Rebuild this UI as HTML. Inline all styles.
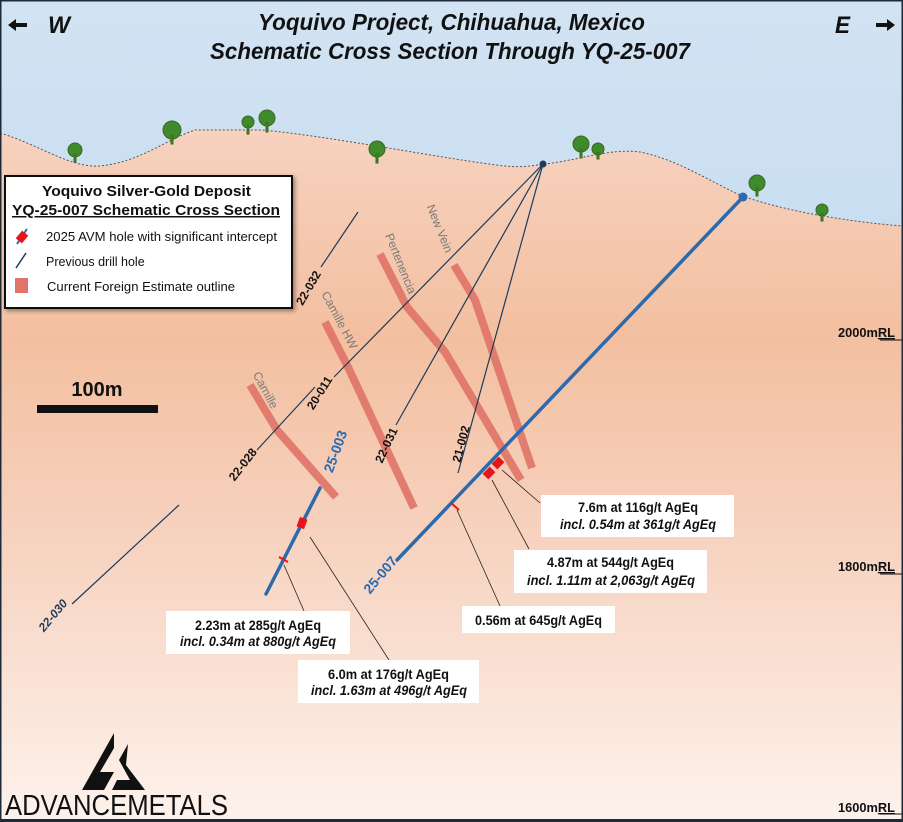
<!DOCTYPE html>
<html><head><meta charset="utf-8"><style>
html,body{margin:0;padding:0;background:#fff}
svg{display:block}
.n{font-family:"Liberation Sans",sans-serif}
.s{font-family:"Liberation Sans",sans-serif}
</style></head><body>
<svg width="903" height="822" viewBox="0 0 903 822" xmlns="http://www.w3.org/2000/svg">
<defs>
<linearGradient id="sky" x1="0" y1="0" x2="0" y2="1"><stop offset="0" stop-color="#d2e3f3"/><stop offset="1" stop-color="#b3d2ec"/></linearGradient>
<linearGradient id="gr" x1="0" y1="0" x2="0" y2="1"><stop offset="0" stop-color="#f7d2bf"/><stop offset="0.3" stop-color="#f3bfa0"/><stop offset="0.6" stop-color="#f7d3c0"/><stop offset="1" stop-color="#fdf2ec"/></linearGradient>
<filter id="sh"><feDropShadow dx="2" dy="2" stdDeviation="2" flood-opacity="0.4"/></filter>
</defs>
<rect width="903" height="822" fill="url(#sky)"/>
<path d="M0,133 C40,145 70,168 100,166 C140,162 165,140 195,130 L262,130 C330,136 450,160 505,166 C525,168 535,165 545,164 C580,160 610,148 640,152 C680,160 715,185 745,197 C790,212 850,222 903,226 L903,822 L0,822 Z" fill="url(#gr)"/>
<path d="M0,133 C40,145 70,168 100,166 C140,162 165,140 195,130 L262,130 C330,136 450,160 505,166 C525,168 535,165 545,164 C580,160 610,148 640,152 C680,160 715,185 745,197 C790,212 850,222 903,226" fill="none" stroke="#555" stroke-width="1" stroke-dasharray="2,2"/>
<g fill="#3f8a2a" stroke="#3a6a20" stroke-width="1">
<g transform="translate(75,150)"><circle r="7"/><rect x="-1" y="4" width="2" height="8"/></g>
<g transform="translate(172,130)"><circle r="9"/><rect x="-1" y="5" width="2" height="9"/></g>
<g transform="translate(248,122)"><circle r="6"/><rect x="-1" y="4" width="2" height="8"/></g>
<g transform="translate(267,118)"><circle r="8"/><rect x="-1" y="5" width="2" height="9"/></g>
<g transform="translate(377,149)"><circle r="8"/><rect x="-1" y="5" width="2" height="9"/></g>
<g transform="translate(581,144)"><circle r="8"/><rect x="-1" y="5" width="2" height="9"/></g>
<g transform="translate(598,149)"><circle r="6"/><rect x="-1" y="4" width="2" height="6"/></g>
<g transform="translate(757,183)"><circle r="8"/><rect x="-1" y="5" width="2" height="8"/></g>
<g transform="translate(822,210)"><circle r="6"/><rect x="-1" y="4" width="2" height="7"/></g>
</g>
<g class="n" font-weight="bold" font-style="italic" fill="#111">
<text x="258" y="30" font-size="23" textLength="387" lengthAdjust="spacingAndGlyphs">Yoquivo Project, Chihuahua, Mexico</text>
<text x="210" y="59" font-size="23" textLength="480" lengthAdjust="spacingAndGlyphs">Schematic Cross Section Through YQ-25-007</text>
<text x="48" y="33" font-size="24" textLength="22" lengthAdjust="spacingAndGlyphs">W</text>
<text x="835" y="33" font-size="24" textLength="15" lengthAdjust="spacingAndGlyphs">E</text>
</g>
<path d="M8,25 L16,19 L16,23 L27,23 L27,27 L16,27 L16,31 Z" fill="#111"/>
<path d="M895,25 L887,19 L887,23 L876,23 L876,27 L887,27 L887,31 Z" fill="#111"/>
<g fill="none" stroke="#e07468" stroke-width="8" stroke-linecap="butt" opacity="0.9">
<polyline points="250,385 277,430 336,497"/>
<polyline points="325,322 348,367 414,508"/>
<polyline points="380,254 407,307 445,352 521,480"/>
<polyline points="454,265 475,300 532,468"/>
</g>
<g class="s" fill="#7a7a7a" font-size="12">
<text transform="translate(262,392) rotate(62)" text-anchor="middle">Camille</text>
<text transform="translate(336,322) rotate(62)" text-anchor="middle">Camille HW</text>
<text transform="translate(397,265) rotate(68)" text-anchor="middle">Pertenencia</text>
<text transform="translate(436,230) rotate(68)" text-anchor="middle">New Vein</text>
</g>
<g stroke="#1d3b5a" stroke-width="1.2" fill="none">
<line x1="543" y1="164" x2="334" y2="377"/>
<line x1="315" y1="387" x2="257" y2="450"/>
<line x1="358" y1="212" x2="321" y2="267"/>
<line x1="543" y1="164" x2="396" y2="425"/>
<line x1="543" y1="164" x2="458" y2="473"/>
<line x1="179" y1="505" x2="72" y2="604"/>
</g>
<circle cx="543" cy="164" r="3.5" fill="#1d3b5a"/>
<g class="s" fill="#111" font-size="12" font-weight="bold" text-anchor="middle">
<text transform="translate(312,290) rotate(-60)">22-032</text>
<text transform="translate(323,395) rotate(-58)">20-011</text>
<text transform="translate(246,467) rotate(-52)">22-028</text>
<text transform="translate(390,447) rotate(-65)">22-031</text>
<text transform="translate(465,445) rotate(-75)">21-002</text>
<text transform="translate(56,618) rotate(-50)" font-style="italic" fill="#1d3b5a">22-030</text>
</g>
<g stroke="#2c6aae" stroke-width="3.5" stroke-linecap="round">
<line x1="743" y1="197" x2="397" y2="560"/>
<line x1="320" y1="488" x2="266" y2="594"/>
</g>
<circle cx="743" cy="197" r="4.5" fill="#2c6aae"/>
<g class="s" fill="#2c6aae" font-size="14" font-weight="bold" text-anchor="middle">
<text transform="translate(340,453) rotate(-70)">25-003</text>
<text transform="translate(384,578) rotate(-50)">25-007</text>
</g>
<g fill="#e8141a">
<rect x="-5" y="-4" width="10" height="8" transform="translate(498,463) rotate(-45)"/>
<rect x="-5" y="-4" width="10" height="8" transform="translate(489,473) rotate(-45)"/>
<rect x="-5" y="-4" width="10" height="8" transform="translate(302,523) rotate(-70)"/>
</g>
<g stroke="#e8141a" stroke-width="2">
<line x1="451" y1="503" x2="459" y2="510"/>
<line x1="279" y1="557" x2="288" y2="562"/>
</g>
<g stroke="#222" stroke-width="0.8">
<line x1="502" y1="470" x2="540" y2="503"/>
<line x1="492" y1="480" x2="529" y2="549"/>
<line x1="457" y1="510" x2="500" y2="606"/>
<line x1="284" y1="565" x2="304" y2="611"/>
<line x1="310" y1="537" x2="389" y2="660"/>
</g>
<g fill="#fff"><rect x="541" y="495" width="193" height="42"/><rect x="514" y="550" width="193" height="43"/><rect x="462" y="606" width="153" height="27"/><rect x="166" y="611" width="184" height="43"/><rect x="298" y="660" width="181" height="43"/></g>
<g class="n" fill="#111" font-size="14" font-weight="bold">
<text x="578" y="512" textLength="120" lengthAdjust="spacingAndGlyphs">7.6m at 116g/t AgEq</text><text x="560" y="529" font-style="italic" textLength="156" lengthAdjust="spacingAndGlyphs">incl. 0.54m at 361g/t AgEq</text>
<text x="547" y="567" textLength="127" lengthAdjust="spacingAndGlyphs">4.87m at 544g/t AgEq</text><text x="527" y="585" font-style="italic" textLength="168" lengthAdjust="spacingAndGlyphs">incl. 1.11m at 2,063g/t AgEq</text>
<text x="475" y="625" textLength="127" lengthAdjust="spacingAndGlyphs">0.56m at 645g/t AgEq</text>
<text x="195" y="630" textLength="126" lengthAdjust="spacingAndGlyphs">2.23m at 285g/t AgEq</text><text x="180" y="646" font-style="italic" textLength="156" lengthAdjust="spacingAndGlyphs">incl. 0.34m at 880g/t AgEq</text>
<text x="328" y="679" textLength="121" lengthAdjust="spacingAndGlyphs">6.0m at 176g/t AgEq</text><text x="311" y="695" font-style="italic" textLength="156" lengthAdjust="spacingAndGlyphs">incl. 1.63m at 496g/t AgEq</text>
</g>
<rect x="5" y="176" width="287" height="132" fill="#fff" stroke="#111" stroke-width="2" filter="url(#sh)"/>
<g class="s" fill="#111">
<text x="42" y="196" font-size="15" font-weight="bold" textLength="209" lengthAdjust="spacingAndGlyphs">Yoquivo Silver-Gold Deposit</text>
<text x="12" y="215" font-size="15" font-weight="bold" text-decoration="underline" textLength="268" lengthAdjust="spacingAndGlyphs">YQ-25-007 Schematic Cross Section</text>
<text x="46" y="241" font-size="12.5" textLength="231" lengthAdjust="spacingAndGlyphs">2025 AVM hole with significant intercept</text>
<text x="46" y="266" font-size="12.5">Previous drill hole</text>
<text x="47" y="291" font-size="12.5" textLength="188" lengthAdjust="spacingAndGlyphs">Current Foreign Estimate outline</text>
</g>
<line x1="17" y1="244" x2="27" y2="229" stroke="#2c6aae" stroke-width="2"/>
<rect x="-5" y="-4" width="10" height="8" fill="#e8141a" transform="translate(22,237) rotate(-50)"/>
<line x1="16" y1="268" x2="26" y2="253" stroke="#1d3b5a" stroke-width="1.5"/>
<rect x="15" y="278" width="13" height="15" fill="#e07468"/>
<text x="97" y="396" class="s" font-size="20" font-weight="bold" text-anchor="middle" fill="#111">100m</text>
<rect x="37" y="405" width="121" height="8" fill="#111"/>
<g class="n" font-size="13" font-weight="bold" fill="#111">
<text x="838" y="337" textLength="57" lengthAdjust="spacingAndGlyphs">2000m<tspan text-decoration="underline">RL</tspan></text>
<text x="838" y="571" textLength="57" lengthAdjust="spacingAndGlyphs">1800m<tspan text-decoration="underline">RL</tspan></text>
<text x="838" y="812" textLength="57" lengthAdjust="spacingAndGlyphs">1600m<tspan text-decoration="underline">RL</tspan></text>
</g>
<g stroke="#111" stroke-width="1"><line x1="880" y1="340" x2="903" y2="340"/><line x1="880" y1="574" x2="903" y2="574"/><line x1="880" y1="814" x2="903" y2="814"/></g>
<path d="M114,733 L82,790 L104,790 L114,772 L100,772 L114,748 Z" fill="#111"/>
<path d="M119,760 L128,744 L126,765 L145,790 L112,790 L117,780 L130,780 Z" fill="#111"/>
<text x="5" y="815" class="n" font-size="29" fill="#111" textLength="223" lengthAdjust="spacingAndGlyphs">ADVANCEMETALS</text>
<rect x="0.5" y="0.5" width="902" height="820" fill="none" stroke="#1c2a3a" stroke-width="2"/>
<rect x="0" y="819" width="903" height="3" fill="#1c2a3a"/>
</svg>
</body></html>
